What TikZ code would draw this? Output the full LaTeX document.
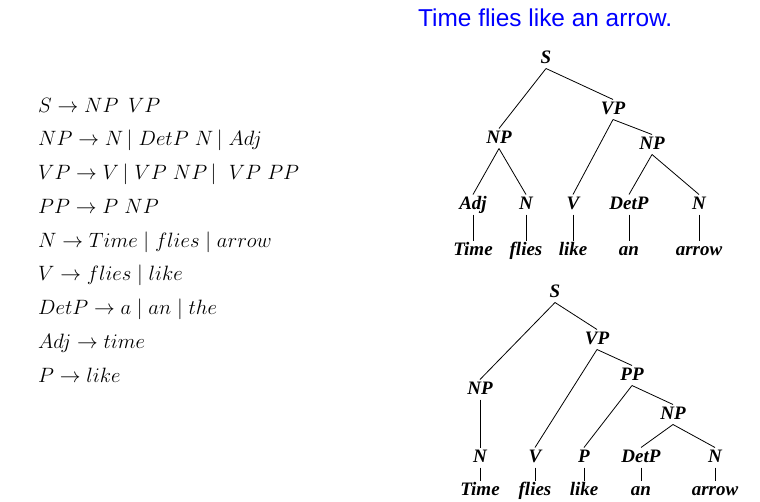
\documentclass[tikz,border=0pt]{standalone}
\usepackage{fontspec}
\newfontfamily\titlefont{Liberation Sans}
\newfontfamily\treefont{Liberation Serif}
\begin{document}
\begin{tikzpicture}[x=1pt,y=-1pt,
  lab/.style={anchor=base,inner sep=1.5pt,outer sep=0pt,text height=13pt,text depth=4pt,
    font=\treefont\bfseries\itshape\fontsize{19}{21}\selectfont},
  rule/.style={anchor=base west,inner sep=0pt,font=\fontsize{20.5}{23}\selectfont},
  edge/.style={black,line width=0.8pt}]
\useasboundingbox (0,0) rectangle (760,501);
\fill[white] (0,0) rectangle (760,501);
% title
\node[anchor=base west,inner sep=0pt,text=blue,font=\titlefont\fontsize{24.4}{26}\selectfont] (title) at (418,26) {Time flies like an arrow.};
% grammar
\node[rule] (r1) at (38,112) {$S\rightarrow NP\ \,VP$};
\node[rule] (r2) at (38,145.75) {$NP\rightarrow N\,|\ DetP\ N\,|\ Adj$};
\node[rule] (r3) at (38,179.5) {$VP\rightarrow V\,|\ VP\ NP\,|\ \ VP\ PP$};
\node[rule] (r4) at (38,213.25) {$PP\rightarrow P\ NP$};
\node[rule] (r5) at (38,247) {$N\rightarrow Time\mid flies\mid arrow$};
\node[rule] (r6) at (38,280.75) {$V\rightarrow flies\mid like$};
\node[rule] (r7) at (38,314.5) {$DetP\rightarrow a\mid an\mid the$};
\node[rule] (r8) at (38,348.25) {$Adj\rightarrow time$};
\node[rule] (r9) at (38,382) {$P\rightarrow like$};
% tree 1
\node[lab] (aS) at (546,63) {S};
\node[lab] (aVP) at (613,114) {VP};
\node[lab] (aNP) at (499,143) {NP};
\node[lab] (aNPb) at (652,149) {NP};
\node[lab] (aAdj) at (473,209) {Adj};
\node[lab] (aN) at (526,209) {N};
\node[lab] (aV) at (573,209) {V};
\node[lab] (aDet) at (629,209) {DetP};
\node[lab] (aNb) at (699,209) {N};
\node[lab] (aw1) at (473,255) {Time};
\node[lab] (aw2) at (526,255) {flies};
\node[lab] (aw3) at (573,255) {like};
\node[lab] (aw4) at (629,255) {an};
\node[lab] (aw5) at (699,255) {arrow};
\draw[edge] (aS.south) -- (aNP.north);
\draw[edge] (aS.south) -- (aVP.north);
\draw[edge] (aVP.south) -- (aV.north);
\draw[edge] (aVP.south) -- (aNPb.north);
\draw[edge] (aNP.south) -- (aAdj.north);
\draw[edge] (aNP.south) -- (aN.north);
\draw[edge] (aNPb.south) -- (aDet.north);
\draw[edge] (aNPb.south) -- (aNb.north);
\draw[edge] (aAdj.south) -- (aw1.north);
\draw[edge] (aN.south) -- (aw2.north);
\draw[edge] (aV.south) -- (aw3.north);
\draw[edge] (aDet.south) -- (aw4.north);
\draw[edge] (aNb.south) -- (aw5.north);
% tree 2
\node[lab] (bS) at (555,297) {S};
\node[lab] (bVP) at (597,344) {VP};
\node[lab] (bNP) at (480,394) {NP};
\node[lab] (bPP) at (632,380) {PP};
\node[lab] (bNPb) at (673,419) {NP};
\node[lab] (bN) at (480,462) {N};
\node[lab] (bV) at (535,462) {V};
\node[lab] (bP) at (584,462) {P};
\node[lab] (bDet) at (641,462) {DetP};
\node[lab] (bNb) at (715,462) {N};
\node[lab] (bw1) at (480,495) {Time};
\node[lab] (bw2) at (535,495) {flies};
\node[lab] (bw3) at (584,495) {like};
\node[lab] (bw4) at (641,495) {an};
\node[lab] (bw5) at (715,495) {arrow};
\draw[edge] (bS.south) -- (bNP.north);
\draw[edge] (bS.south) -- (bVP.north);
\draw[edge] (bVP.south) -- (bV.north);
\draw[edge] (bVP.south) -- (bPP.north);
\draw[edge] (bPP.south) -- (bP.north);
\draw[edge] (bPP.south) -- (bNPb.north);
\draw[edge] (bNPb.south) -- (bDet.north);
\draw[edge] (bNPb.south) -- (bNb.north);
\draw[edge] (bNP.south) -- (bN.north);
\draw[edge] (bN.south) -- (bw1.north);
\draw[edge] (bV.south) -- (bw2.north);
\draw[edge] (bP.south) -- (bw3.north);
\draw[edge] (bDet.south) -- (bw4.north);
\draw[edge] (bNb.south) -- (bw5.north);
\end{tikzpicture}
\end{document}
